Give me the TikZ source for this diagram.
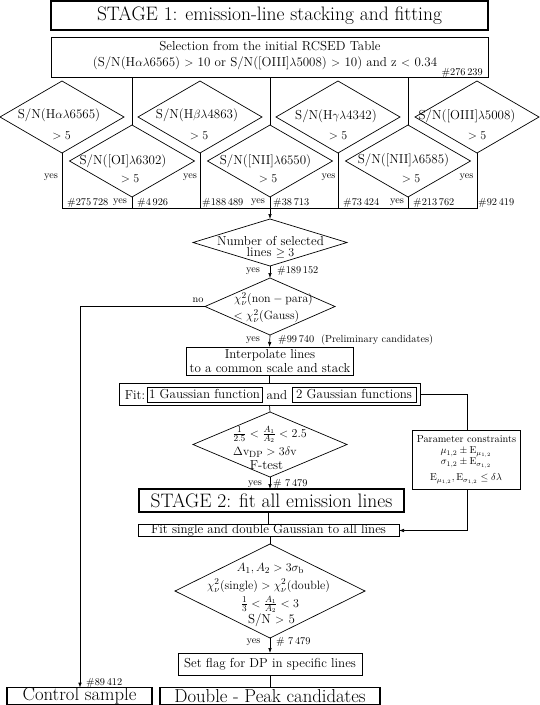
\documentclass[tikz,border=0pt]{standalone}
\usetikzlibrary{shapes.geometric,arrows.meta}
\newcommand{\nfont}{\fontsize{13}{14}\selectfont}
\newcommand{\sfont}{\fontsize{10.3}{12}\selectfont}
\newcommand{\bfont}{\fontsize{19.5}{21}\selectfont}
\newcommand{\mfont}{\fontsize{18.7}{20}\selectfont}
\begin{document}
\begin{tikzpicture}[x=1pt,y=-1pt,
  thinbox/.style={draw,line width=0.7pt,inner sep=0pt,outer sep=0pt,font=\nfont},
  thickbox/.style={draw,line width=1.4pt,inner sep=0pt,outer sep=0pt,font=\bfont},
  dia/.style={draw,diamond,line width=0.7pt,inner sep=0pt,outer sep=0pt},
  txt/.style={inner sep=0pt,font=\nfont},
  lab/.style={inner sep=0pt,font=\sfont},
  conn/.style={line width=0.7pt},
  arr/.style={conn,-{Latex[length=5pt,width=3.6pt]}}]
\useasboundingbox (0,0) rectangle (540,705);

% ---- top boxes
\node[thickbox,minimum width=437,minimum height=29] (title) at (269.5,15.5) {STAGE 1: emission-line stacking and fitting};
\node[thinbox,minimum width=437,minimum height=40] (sel) at (269.5,57) {};
\node[txt] (sel1) at (270,46) {Selection from the initial RCSED Table};
\node[txt] (sel2) at (265,63) {(S/N(H$\alpha\lambda$6565) $>$ 10 or S/N([OIII]$\lambda$5008) $>$ 10) and z $<$ 0.34};
\node[lab,anchor=east] (selN) at (483,73) {\#276\,239};

% ---- upper diamonds
\node[dia,minimum width=124,minimum height=72] (ha) at (62,117) {};
\node[dia,minimum width=124,minimum height=72] (hb) at (200,117) {};
\node[dia,minimum width=124,minimum height=72] (hg) at (338,117) {};
\node[dia,minimum width=124,minimum height=72] (o3) at (477,117) {};
\node[txt] (haA) at (59,115) {S/N(H$\alpha\lambda$6565)};
\node[txt] (haB) at (61.5,136) {$>5$};
\node[txt] (hbA) at (197,115) {S/N(H$\beta\lambda$4863)};
\node[txt] (hbB) at (199,136) {$>5$};
\node[txt] (hgA) at (336,116) {S/N(H$\gamma\lambda$4342)};
\node[txt] (hgB) at (338,136) {$>5$};
\node[txt] (o3A) at (467,116) {S/N([OIII]$\lambda$5008)};
\node[txt] (o3B) at (477,136) {$>5$};

% ---- lower diamonds
\node[dia,minimum width=125,minimum height=72] (o1) at (132,161) {};
\node[dia,minimum width=125,minimum height=72] (na) at (270,161) {};
\node[dia,minimum width=125,minimum height=72] (nb) at (408,161) {};
\node[txt] (o1A) at (123,161.5) {S/N([OI]$\lambda$6302)};
\node[txt] (o1B) at (130,179) {$>5$};
\node[txt] (naA) at (265.5,161.5) {S/N([NII]$\lambda$6550)};
\node[txt] (naB) at (268,179) {$>5$};
\node[txt] (nbA) at (403.5,160.5) {S/N([NII]$\lambda$6585)};
\node[txt] (nbB) at (411,179) {$>5$};

% ---- connectors of the first stage
\draw[conn] (sel.south -| o1.north) -- (o1.north);
\draw[conn] (sel.south -| na.north) -- (na.north);
\draw[conn] (sel.south -| nb.north) -- (nb.north);
\coordinate (jL) at (62,208);
\coordinate (jR) at (477,208);
\coordinate (jM) at (270,208);
\draw[conn] (ha.south) -- (jL) -- (jR) -- (o3.south);
\draw[conn] (hb.south) -- (hb.south |- jM);
\draw[conn] (hg.south) -- (hg.south |- jM);
\draw[conn] (o1.south) -- (o1.south |- jM);
\draw[conn] (na.south) -- (na.south |- jM);
\draw[conn] (nb.south) -- (nb.south |- jM);

\node[lab] (y1) at (51,177) {yes};
\node[lab] (y2) at (190,177) {yes};
\node[lab] (y3) at (328.5,177) {yes};
\node[lab] (y4) at (466.5,177) {yes};
\node[lab] (y5) at (120,202) {yes};
\node[lab] (y6) at (258,202) {yes};
\node[lab] (y7) at (397,202) {yes};
\node[lab,anchor=west] (c1) at (67,203) {\#275\,728};
\node[lab,anchor=west] (c2) at (137,203) {\#4\,926};
\node[lab,anchor=west] (c3) at (202,203) {\#188\,489};
\node[lab,anchor=west] (c4) at (273,203) {\#38\,713};
\node[lab,anchor=west] (c5) at (343,203) {\#73\,424};
\node[lab,anchor=west] (c6) at (413,203) {\#213\,762};
\node[lab,anchor=west] (c7) at (478,203) {\#92\,419};

% ---- central column
\node[dia,minimum width=154,minimum height=47] (num) at (270,242.5) {};
\node[txt,align=center,font=\fontsize{13}{11.2}\selectfont] (numT) at (270.5,247) {Number of selected\\lines $\geq 3$};
\node[dia,minimum width=130,minimum height=57] (chi) at (270,306.5) {};
\node[txt] (chiA) at (273.5,299) {$\chi^2_\nu(\mathrm{non-para})$};
\node[txt] (chiB) at (266.5,316) {$<\chi^2_\nu(\mathrm{Gauss})$};
\node[thinbox,minimum width=167,minimum height=28] (interp) at (269.5,361) {};
\node[txt] (intA) at (270,355) {Interpolate lines};
\node[txt] (intB) at (270,368) {to a common scale and stack};
\node[thinbox,minimum width=301,minimum height=22] (fit) at (269.5,394) {};
\node[thinbox,minimum width=115,minimum height=15] (g1) at (204.5,394.5) {1 Gaussian function};
\node[thinbox,minimum width=124,minimum height=15] (g2) at (354,394.5) {2 Gaussian functions};
\node[txt] (fitL) at (135,395) {Fit:};
\node[txt] (fitAnd) at (277,395) {and};
\node[dia,minimum width=154,minimum height=65] (ratio) at (270,444.5) {};
\node[txt] (raA) at (269.5,434.5) {$\frac{1}{2.5}<\frac{A_1}{A_2}<2.5$};
\node[txt] (raB) at (265,452.5) {$\Delta\mathrm{v_{DP}}>3\delta\mathrm{v}$};
\node[txt] (raC) at (266.5,465.5) {F-test};
\node[thickbox,minimum width=265,minimum height=23] (stage) at (271.5,500.5) {STAGE 2: fit all emission lines};
\node[thinbox,minimum width=261,minimum height=12.5] (fitsingle) at (268.5,530.5) {Fit single and double Gaussian to all lines};
\node[thinbox,minimum width=108,minimum height=59] (param) at (466,459.5) {};
\node[lab] (paA) at (466.5,439) {Parameter constraints};
\node[lab] (paB) at (466,452) {$\mu_{1,2}\pm\mathrm{E}_{\mu_{1,2}}$};
\node[lab] (paC) at (466,463) {$\sigma_{1,2}\pm\mathrm{E}_{\sigma_{1,2}}$};
\node[lab] (paD) at (466,479) {$\mathrm{E}_{\mu_{1,2}},\mathrm{E}_{\sigma_{1,2}}\leq\delta\lambda$};
\node[dia,minimum width=190,minimum height=94] (fin) at (270,591) {};
\node[txt] (fiA) at (270.5,568.5) {$A_1,A_2>3\sigma_\mathrm{b}$};
\node[txt] (fiB) at (268.5,585.5) {$\chi^2_\nu(\mathrm{single})>\chi^2_\nu(\mathrm{double})$};
\node[txt] (fiC) at (270,604.5) {$\frac{1}{3}<\frac{A_1}{A_2}<3$};
\node[txt] (fiD) at (271.5,620.5) {S/N $>$ 5};
\node[thinbox,minimum width=184,minimum height=22] (flag) at (270,664) {Set flag for DP in specific lines};
\node[thickbox,font=\mfont,minimum width=145,minimum height=16.5] (ctrl) at (79.5,696) {Control sample};
\node[thickbox,font=\mfont,minimum width=220,minimum height=16.5] (dp) at (270,696) {Double - Peak candidates};

% ---- central connectors
\draw[arr] (jM) -- (num.north);
\draw[arr] (num.south) -- (chi.north);
\draw[arr] (chi.south) -- (interp.north);
\draw[conn] (interp.south) -- (fit.north);
\draw[conn] (fit.south) -- (ratio.north);
\draw[arr] (ratio.south) -- (stage.north -| ratio.south);
\draw[conn] (stage.south -| fitsingle.north) -- (fitsingle.north);
\draw[conn] (fitsingle.south -| fin.north) -- (fin.north);
\draw[arr] (fin.south) -- (flag.north);
\draw[conn] (flag.south) -- (dp.north);
\coordinate (nc) at (80,306.5);
\draw[arr] (chi.west) -- (nc) -- (nc |- ctrl.north);
\coordinate (fp) at (467,394);
\draw[conn] (fit.east) -- (fp) -- (fp |- param.north);
\coordinate (pf) at (467,530.5);
\draw[arr] (fp |- param.south) -- (pf) -- (fitsingle.east);

\node[lab] (ya) at (253,271) {yes};
\node[lab,anchor=west] (ca) at (277,271) {\#189\,152};
\node[lab] (no) at (198,300) {no};
\node[lab] (yb) at (253,340) {yes};
\node[lab,anchor=west] (cb) at (278,340) {\#99\,740\ \ (Preliminary candidates)};
\node[lab] (yc) at (255,484) {yes};
\node[lab,anchor=west] (cc) at (273,484) {\#\ 7\,479};
\node[lab] (yd) at (253.5,642) {yes};
\node[lab,anchor=west] (cd) at (276,642) {\#\ 7\,479};
\node[lab,anchor=west] (ce) at (86,683) {\#89\,412};
\end{tikzpicture}
\end{document}
